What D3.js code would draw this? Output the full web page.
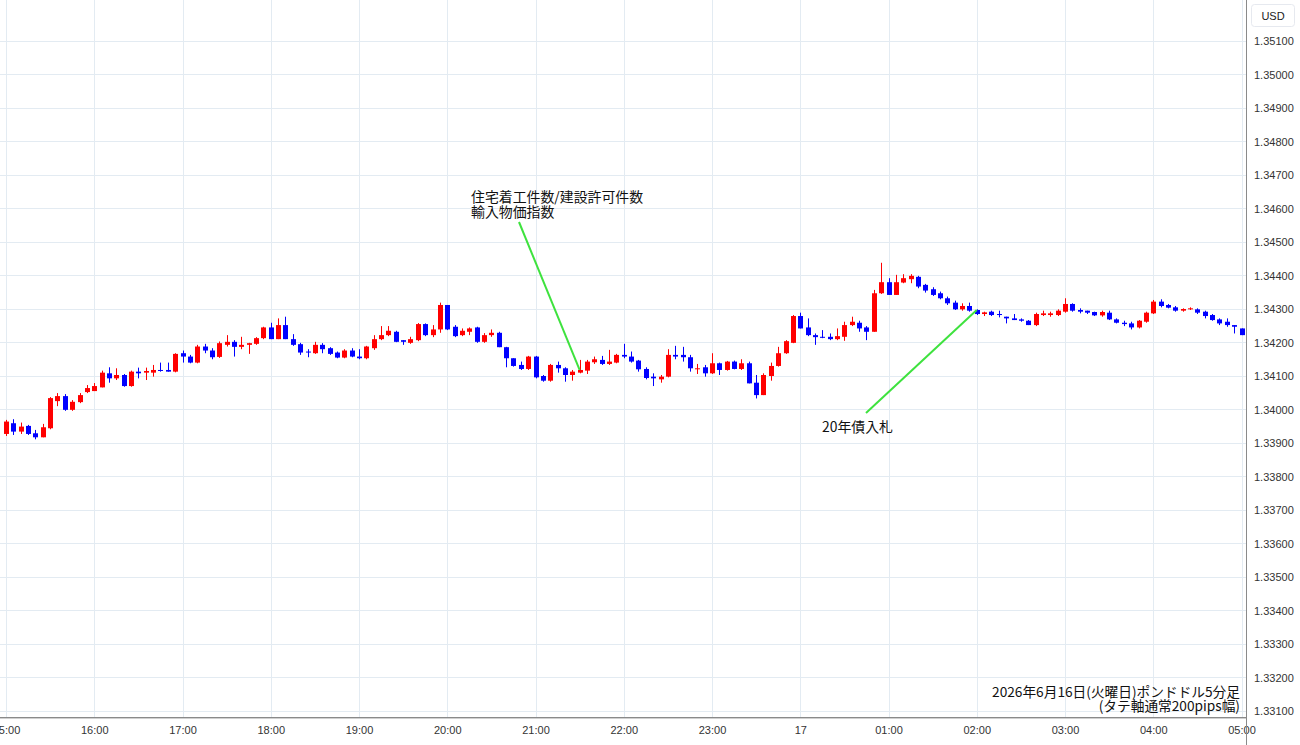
<!DOCTYPE html>
<html>
<head>
<meta charset="utf-8">
<script src="https://cdn.jsdelivr.net/npm/d3@7"></script>
<style>
  body { margin: 0; background: #fff; }
  svg { display: block; }
</style>
</head>
<body>
<div id="chart"></div>
<script>
(function() {
  var width, height, plotRight, plotBottom, startTime, endTime, times, candles, x, y, svg, plot, hourTicks, i;

  // 5-minute GBP/USD candles, 2026-06-16 15:00 .. 06-17 05:00
  var opens = [
    1.33927, 1.33959, 1.33934, 1.33951, 1.33929, 1.33917, 1.33944, 1.34025, 1.34040, 1.33999, 1.34022, 1.34052,
    1.34055, 1.34066, 1.34108, 1.34093, 1.34103, 1.34070, 1.34113, 1.34110, 1.34110, 1.34118, 1.34118, 1.34113,
    1.34168, 1.34158, 1.34140, 1.34188, 1.34176, 1.34157, 1.34193, 1.34202, 1.34187, 1.34193, 1.34196, 1.34213,
    1.34245, 1.34210, 1.34252, 1.34210, 1.34195, 1.34173, 1.34168, 1.34193, 1.34183, 1.34170, 1.34155, 1.34176,
    1.34158, 1.34153, 1.34183, 1.34210, 1.34222, 1.34232, 1.34207, 1.34199, 1.34207, 1.34255, 1.34222, 1.34239,
    1.34312, 1.34247, 1.34222, 1.34232, 1.34245, 1.34202, 1.34222, 1.34229, 1.34186, 1.34153, 1.34133, 1.34121,
    1.34158, 1.34100, 1.34086, 1.34133, 1.34123, 1.34103, 1.34110, 1.34116, 1.34141, 1.34148, 1.34136, 1.34140,
    1.34163, 1.34158, 1.34146, 1.34121, 1.34098, 1.34090, 1.34098, 1.34163, 1.34163, 1.34156, 1.34120, 1.34126,
    1.34108, 1.34138, 1.34118, 1.34143, 1.34121, 1.34138, 1.34080, 1.34043, 1.34100, 1.34130, 1.34168, 1.34199,
    1.34279, 1.34245, 1.34222, 1.34217, 1.34217, 1.34210, 1.34217, 1.34252, 1.34259, 1.34245, 1.34232, 1.34347,
    1.34380, 1.34342, 1.34379, 1.34389, 1.34396, 1.34372, 1.34359, 1.34347, 1.34332, 1.34319, 1.34299, 1.34309,
    1.34297, 1.34285, 1.34292, 1.34285, 1.34277, 1.34272, 1.34269, 1.34265, 1.34252, 1.34282, 1.34282, 1.34282,
    1.34292, 1.34315, 1.34297, 1.34295, 1.34291, 1.34281, 1.34289, 1.34269, 1.34259, 1.34257, 1.34245, 1.34262,
    1.34287, 1.34322, 1.34312, 1.34305, 1.34295, 1.34299, 1.34299, 1.34292, 1.34282, 1.34269, 1.34262, 1.34252,
    1.34242
  ];

  var highs = [
    1.33969, 1.33971, 1.33961, 1.33954, 1.33939, 1.33957, 1.34037, 1.34049, 1.34046, 1.34028, 1.34049, 1.34073,
    1.34079, 1.34116, 1.34126, 1.34123, 1.34106, 1.34116, 1.34125, 1.34125, 1.34133, 1.34140, 1.34140, 1.34168,
    1.34176, 1.34163, 1.34193, 1.34196, 1.34183, 1.34203, 1.34222, 1.34207, 1.34217, 1.34199, 1.34216, 1.34247,
    1.34259, 1.34272, 1.34277, 1.34225, 1.34199, 1.34180, 1.34202, 1.34198, 1.34186, 1.34173, 1.34180, 1.34183,
    1.34180, 1.34190, 1.34222, 1.34249, 1.34249, 1.34235, 1.34207, 1.34217, 1.34258, 1.34257, 1.34252, 1.34319,
    1.34312, 1.34252, 1.34242, 1.34245, 1.34247, 1.34228, 1.34239, 1.34232, 1.34187, 1.34153, 1.34143, 1.34160,
    1.34160, 1.34103, 1.34136, 1.34143, 1.34126, 1.34118, 1.34148, 1.34148, 1.34158, 1.34160, 1.34178, 1.34166,
    1.34196, 1.34173, 1.34148, 1.34126, 1.34108, 1.34103, 1.34180, 1.34190, 1.34187, 1.34163, 1.34136, 1.34133,
    1.34168, 1.34140, 1.34145, 1.34146, 1.34150, 1.34143, 1.34103, 1.34108, 1.34140, 1.34187, 1.34207, 1.34282,
    1.34289, 1.34272, 1.34227, 1.34237, 1.34227, 1.34242, 1.34262, 1.34277, 1.34265, 1.34249, 1.34357, 1.34438,
    1.34392, 1.34402, 1.34404, 1.34404, 1.34399, 1.34375, 1.34365, 1.34352, 1.34337, 1.34325, 1.34317, 1.34319,
    1.34299, 1.34292, 1.34295, 1.34295, 1.34277, 1.34285, 1.34272, 1.34267, 1.34289, 1.34295, 1.34292, 1.34299,
    1.34332, 1.34317, 1.34302, 1.34295, 1.34292, 1.34295, 1.34295, 1.34272, 1.34265, 1.34262, 1.34267, 1.34292,
    1.34327, 1.34329, 1.34315, 1.34309, 1.34302, 1.34305, 1.34302, 1.34295, 1.34285, 1.34272, 1.34272, 1.34252,
    1.34242
  ];

  var lows = [
    1.33921, 1.33924, 1.33927, 1.33924, 1.33911, 1.33917, 1.33941, 1.34010, 1.33996, 1.33996, 1.34019, 1.34049,
    1.34055, 1.34066, 1.34080, 1.34088, 1.34068, 1.34068, 1.34093, 1.34088, 1.34098, 1.34113, 1.34113, 1.34111,
    1.34140, 1.34138, 1.34138, 1.34168, 1.34150, 1.34154, 1.34188, 1.34158, 1.34180, 1.34166, 1.34193, 1.34210,
    1.34210, 1.34210, 1.34210, 1.34190, 1.34163, 1.34156, 1.34166, 1.34168, 1.34163, 1.34153, 1.34153, 1.34156,
    1.34150, 1.34150, 1.34178, 1.34207, 1.34219, 1.34201, 1.34193, 1.34196, 1.34204, 1.34219, 1.34216, 1.34229,
    1.34237, 1.34216, 1.34219, 1.34222, 1.34199, 1.34199, 1.34217, 1.34186, 1.34126, 1.34128, 1.34118, 1.34118,
    1.34093, 1.34083, 1.34083, 1.34110, 1.34083, 1.34086, 1.34108, 1.34106, 1.34136, 1.34133, 1.34133, 1.34138,
    1.34153, 1.34140, 1.34113, 1.34090, 1.34070, 1.34080, 1.34096, 1.34150, 1.34143, 1.34113, 1.34106, 1.34098,
    1.34106, 1.34103, 1.34116, 1.34120, 1.34118, 1.34078, 1.34033, 1.34043, 1.34086, 1.34128, 1.34166, 1.34198,
    1.34242, 1.34219, 1.34193, 1.34213, 1.34207, 1.34207, 1.34205, 1.34249, 1.34232, 1.34207, 1.34232, 1.34345,
    1.34342, 1.34342, 1.34377, 1.34377, 1.34362, 1.34349, 1.34339, 1.34329, 1.34312, 1.34297, 1.34295, 1.34292,
    1.34282, 1.34279, 1.34279, 1.34275, 1.34257, 1.34267, 1.34262, 1.34252, 1.34249, 1.34279, 1.34277, 1.34279,
    1.34289, 1.34292, 1.34287, 1.34285, 1.34279, 1.34277, 1.34267, 1.34257, 1.34249, 1.34239, 1.34242, 1.34259,
    1.34285, 1.34305, 1.34302, 1.34292, 1.34292, 1.34297, 1.34285, 1.34272, 1.34265, 1.34252, 1.34247, 1.34227,
    1.34222
  ];

  var closes = [
    1.33964, 1.33934, 1.33949, 1.33927, 1.33917, 1.33947, 1.34034, 1.34040, 1.33999, 1.34023, 1.34043, 1.34064,
    1.34070, 1.34110, 1.34093, 1.34103, 1.34070, 1.34113, 1.34108, 1.34115, 1.34118, 1.34115, 1.34113, 1.34166,
    1.34158, 1.34140, 1.34188, 1.34176, 1.34156, 1.34198, 1.34202, 1.34187, 1.34193, 1.34198, 1.34213, 1.34245,
    1.34210, 1.34252, 1.34210, 1.34193, 1.34170, 1.34170, 1.34193, 1.34180, 1.34166, 1.34155, 1.34176, 1.34158,
    1.34153, 1.34188, 1.34210, 1.34222, 1.34235, 1.34202, 1.34202, 1.34210, 1.34255, 1.34222, 1.34239, 1.34312,
    1.34239, 1.34219, 1.34235, 1.34242, 1.34202, 1.34222, 1.34229, 1.34186, 1.34153, 1.34130, 1.34121, 1.34158,
    1.34096, 1.34086, 1.34133, 1.34123, 1.34103, 1.34113, 1.34118, 1.34143, 1.34150, 1.34136, 1.34143, 1.34163,
    1.34158, 1.34143, 1.34120, 1.34094, 1.34093, 1.34098, 1.34163, 1.34158, 1.34156, 1.34123, 1.34123, 1.34108,
    1.34138, 1.34118, 1.34143, 1.34121, 1.34138, 1.34078, 1.34043, 1.34103, 1.34130, 1.34168, 1.34204, 1.34279,
    1.34242, 1.34222, 1.34216, 1.34214, 1.34210, 1.34219, 1.34252, 1.34262, 1.34242, 1.34232, 1.34347, 1.34380,
    1.34342, 1.34380, 1.34392, 1.34399, 1.34367, 1.34355, 1.34342, 1.34332, 1.34317, 1.34299, 1.34309, 1.34295,
    1.34285, 1.34290, 1.34282, 1.34282, 1.34272, 1.34267, 1.34265, 1.34252, 1.34285, 1.34287, 1.34287, 1.34295,
    1.34315, 1.34295, 1.34292, 1.34289, 1.34281, 1.34291, 1.34269, 1.34259, 1.34255, 1.34245, 1.34265, 1.34289,
    1.34322, 1.34309, 1.34304, 1.34295, 1.34300, 1.34302, 1.34289, 1.34279, 1.34267, 1.34257, 1.34252, 1.34247,
    1.34222
  ];

  var priceTicks = [1.331, 1.332, 1.333, 1.334, 1.335, 1.336, 1.337, 1.338, 1.339, 1.340,
    1.341, 1.342, 1.343, 1.344, 1.345, 1.346, 1.347, 1.348, 1.349, 1.350, 1.351];

  var timeLabels = ["15:00", "16:00", "17:00", "18:00", "19:00", "20:00", "21:00", "22:00",
    "23:00", "17", "01:00", "02:00", "03:00", "04:00", "05:00"];

  var noteEvents1 = ["住宅着工件数/建設許可件数", "輸入物価指数"];
  var noteEvents2 = ["20年債入札"];
  var noteTitle = ["2026年6月16日(火曜日)ポンドドル5分足", "(タテ軸通常200pips幅)"];

  width = 1300;
  height = 745;
  plotRight = 1246;
  plotBottom = 717;

  startTime = new Date(2026, 5, 16, 15, 0);
  endTime = new Date(2026, 5, 17, 5, 0);

  times = [];
  for (i = 0; i < opens.length; i++) {
    times.push(d3.timeMinute.offset(startTime, 5 * i));
  }
  hourTicks = d3.timeHour.range(startTime, d3.timeMinute.offset(endTime, 1));

  candles = times.map(function(t, k) {
    return { t: t, o: opens[k], h: highs[k], l: lows[k], c: closes[k] };
  });

  x = d3.scaleTime().domain([startTime, endTime]).range([6, 1241.5]);
  y = d3.scaleLinear().domain([1.331, 1.351]).range([711, 41]);

  svg = d3.select("#chart").append("svg")
    .attr("width", width).attr("height", height)
    .style("font-family", "'Liberation Sans', Arial, sans-serif");

  svg.append("rect").attr("width", width).attr("height", height).attr("fill", "#fff");

  svg.append("defs").append("clipPath").attr("id", "plotclip")
    .append("rect").attr("x", 0).attr("y", 0).attr("width", plotRight).attr("height", plotBottom);

  plot = svg.append("g").attr("clip-path", "url(#plotclip)");

  // grid
  plot.selectAll("line.hgrid").data(priceTicks).enter().append("line")
    .attr("class", "hgrid")
    .attr("x1", 0).attr("x2", plotRight)
    .attr("y1", function(d) { return Math.round(y(d)) + 0.5; })
    .attr("y2", function(d) { return Math.round(y(d)) + 0.5; })
    .attr("stroke", "#e3ebf2").attr("stroke-width", 1);

  plot.selectAll("line.vgrid").data(hourTicks).enter().append("line")
    .attr("class", "vgrid")
    .attr("y1", 0).attr("y2", plotBottom)
    .attr("x1", function(d) { return Math.round(x(d)) + 0.5; })
    .attr("x2", function(d) { return Math.round(x(d)) + 0.5; })
    .attr("stroke", "#e3ebf2").attr("stroke-width", 1);

  // candles
  var cg = plot.selectAll("g.candle").data(candles).enter().append("g")
    .attr("class", "candle")
    .attr("fill", function(d) { return d.c >= d.o ? "#ff0000" : "#0000ff"; })
    .attr("stroke", function(d) { return d.c >= d.o ? "#ff0000" : "#0000ff"; });

  cg.append("line")
    .attr("x1", function(d) { return Math.round(x(d.t)) + 0.5; })
    .attr("x2", function(d) { return Math.round(x(d.t)) + 0.5; })
    .attr("y1", function(d) { return y(d.h); })
    .attr("y2", function(d) { return y(d.l); })
    .attr("stroke-width", 1);

  cg.append("rect")
    .attr("stroke", "none")
    .attr("x", function(d) { return Math.round(x(d.t)) - 2; })
    .attr("width", 5)
    .attr("y", function(d) { return y(Math.max(d.o, d.c)); })
    .attr("height", function(d) { return Math.max(1, Math.abs(y(d.o) - y(d.c))); });

  // annotations
  var notes = svg.append("g")
    .style("font-family", "'Noto Sans CJK JP', sans-serif")
    .attr("fill", "#111");

  notes.append("line")
    .attr("x1", 519).attr("y1", 222).attr("x2", x(times[78])).attr("y2", y(closes[78]))
    .attr("stroke", "#3ee23e").attr("stroke-width", 2);

  notes.append("line")
    .attr("x1", 866).attr("y1", 413).attr("x2", x(times[132])).attr("y2", y(opens[132]))
    .attr("stroke", "#3ee23e").attr("stroke-width", 2);

  notes.append("text").attr("x", 471).attr("y", 202).style("font-size", "13.9px")
    .selectAll("tspan").data(noteEvents1).enter().append("tspan")
    .attr("x", 471).attr("dy", function(d, k) { return k === 0 ? 0 : 14.5; })
    .text(function(d) { return d; });

  notes.append("text").attr("x", 822).attr("y", 432).style("font-size", "13.9px")
    .text(noteEvents2[0]);

  notes.append("text").attr("text-anchor", "end").attr("y", 697).style("font-size", "13.7px")
    .selectAll("tspan").data(noteTitle).enter().append("tspan")
    .attr("x", 1240).attr("dy", function(d, k) { return k === 0 ? 0 : 14; })
    .text(function(d) { return d; });

  // axes
  var yAxis = d3.axisRight(y).tickValues(priceTicks).tickFormat(d3.format(".5f"))
    .tickSize(0).tickPadding(8);
  var gy = svg.append("g").attr("transform", "translate(" + plotRight + ",0)").call(yAxis);
  gy.select(".domain").remove();
  gy.selectAll("text").attr("fill", "#333").style("font-size", "11px")
    .style("font-family", "'Liberation Sans', Arial, sans-serif");

  var xAxis = d3.axisBottom(x).tickValues(hourTicks)
    .tickFormat(function(d, k) { return timeLabels[k]; })
    .tickSize(0).tickPadding(9);
  var gx = svg.append("g").attr("transform", "translate(0," + plotBottom + ")").call(xAxis);
  gx.select(".domain").remove();
  gx.selectAll("text").attr("fill", "#333").style("font-size", "11px")
    .style("font-family", "'Liberation Sans', Arial, sans-serif");

  svg.append("line").attr("x1", 0).attr("x2", plotRight + 1)
    .attr("y1", plotBottom + 0.5).attr("y2", plotBottom + 0.5)
    .attr("stroke", "#8a8a8a");
  svg.append("line").attr("x1", 0).attr("x2", plotRight)
    .attr("y1", plotBottom + 1.5).attr("y2", plotBottom + 1.5)
    .attr("stroke", "#d0d0d0");
  svg.append("line").attr("x1", plotRight + 0.5).attr("x2", plotRight + 0.5)
    .attr("y1", 0).attr("y2", height)
    .attr("stroke", "#8a8a8a");

  svg.append("rect").attr("x", 1251.5).attr("y", 4.5).attr("width", 43).attr("height", 22).attr("rx", 3)
    .attr("fill", "#fff").attr("stroke", "#e6e9ef");
  svg.append("text").attr("x", 1273).attr("y", 19.5).attr("text-anchor", "middle")
    .attr("fill", "#222").style("font-size", "11px").text("USD");

}).call(this);
</script>
</body>
</html>
